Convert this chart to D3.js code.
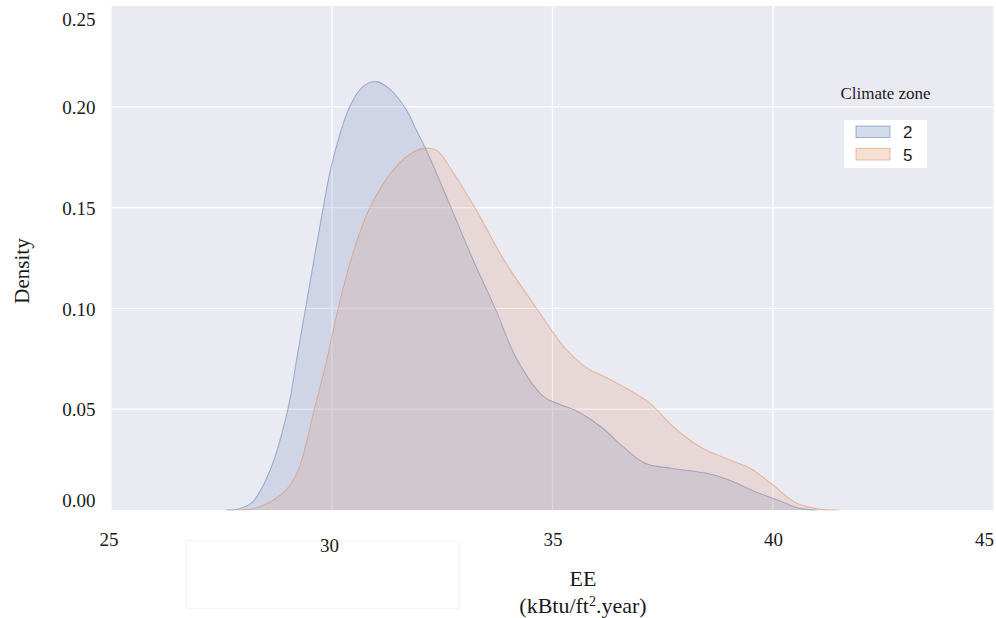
<!DOCTYPE html>
<html>
<head>
<meta charset="utf-8">
<script src="https://cdn.jsdelivr.net/npm/d3@7"></script>
<style>
  html, body { margin: 0; padding: 0; background: #ffffff; }
  svg { display: block; }
  text { font-family: "Liberation Serif", "Times New Roman", serif; fill: #1a1a1a; }
</style>
</head>
<body>
<svg id="chart" width="996" height="618"></svg>
<script>
// Kernel density estimates of EE, one curve per climate zone
const zones = ["2", "5"];
const zoneColors = ["#4c72b0", "#dd8452"];

const eeZone2 = [27.6, 27.9, 28.2, 28.6, 29.0, 29.2, 29.4, 29.8, 30.0, 30.4, 30.7, 31.0, 31.3, 31.7, 31.9, 32.15, 32.7, 33.2, 33.7, 34.2, 34.8, 35.1, 35.5, 36.1, 36.6, 37.1, 37.7, 38.5, 39.0, 39.6, 40.1, 40.6, 41.0];
const densityZone2 = [0, 0.0006, 0.004, 0.020, 0.050, 0.075, 0.100, 0.150, 0.172, 0.200, 0.210, 0.2125, 0.209, 0.198, 0.189, 0.178, 0.150, 0.124, 0.100, 0.0744, 0.0562, 0.0529, 0.0496, 0.0413, 0.0314, 0.0232, 0.0207, 0.0182, 0.0149, 0.0091, 0.0050, 0.0008, 0];

const eeZone5 = [27.9, 28.2, 28.6, 29.0, 29.24, 29.6, 29.88, 30.14, 30.45, 30.86, 31.39, 31.8, 32.1, 32.4, 32.7, 33.24, 33.9, 34.64, 35.32, 35.85, 36.1, 36.61, 37.21, 37.74, 38.34, 39.02, 39.48, 40.0, 40.54, 41.1, 41.5];
const densityZone5 = [0, 0.0006, 0.004, 0.011, 0.020, 0.050, 0.0744, 0.100, 0.1257, 0.150, 0.1687, 0.177, 0.1795, 0.178, 0.169, 0.150, 0.124, 0.100, 0.0794, 0.0694, 0.067, 0.0612, 0.0529, 0.0413, 0.0314, 0.0248, 0.0207, 0.0124, 0.0033, 0.0003, 0];

const xTicks = [25, 30, 35, 40, 45];
const yTicks = [0, 0.05, 0.10, 0.15, 0.20, 0.25];

const svg = d3.select("#chart");
const plot = { left: 111.5, right: 993.5, top: 6, bottom: 510 };

const x = d3.scaleLinear().domain([25, 45]).range([plot.left, plot.right]);
const y = d3.scaleLinear().domain([0, 0.25]).range([plot.bottom, plot.top]);

// panel background
svg.append("rect")
  .attr("x", plot.left).attr("y", plot.top)
  .attr("width", plot.right - plot.left).attr("height", plot.bottom - plot.top)
  .attr("fill", "#eaeaf2");

// white grid
const grid = svg.append("g");
grid.selectAll("line.h").data(yTicks.slice(1, -1)).join("line")
  .attr("x1", plot.left).attr("x2", plot.right)
  .attr("y1", d => y(d)).attr("y2", d => y(d))
  .attr("stroke", "#ffffff").attr("stroke-width", 1.3);
grid.selectAll("line.v").data(xTicks.slice(1, -1)).join("line")
  .attr("y1", plot.top).attr("y2", plot.bottom)
  .attr("x1", d => x(d)).attr("x2", d => x(d))
  .attr("stroke", "#ffffff").attr("stroke-width", 1.3);

// density areas
const series = [
  { xs: eeZone2, ds: densityZone2, color: zoneColors[0] },
  { xs: eeZone5, ds: densityZone5, color: zoneColors[1] }
];
const smooth = d3.curveCatmullRom.alpha(0.5);
const area = d3.area()
  .x(d => x(d[0])).y0(y(0)).y1(d => y(d[1]))
  .curve(smooth);
const line = d3.line()
  .x(d => x(d[0])).y(d => y(d[1]))
  .curve(smooth);

series.forEach(s => {
  const pts = d3.zip(s.xs, s.ds);
  svg.append("path").datum(pts)
    .attr("d", area)
    .attr("fill", s.color).attr("fill-opacity", 0.17);
  svg.append("path").datum(pts)
    .attr("d", line)
    .attr("fill", "none")
    .attr("stroke", s.color).attr("stroke-opacity", 0.45).attr("stroke-width", 1.1);
});

// faint pasted panel below the x axis
svg.append("rect")
  .attr("x", 186.5).attr("y", 540.5).attr("width", 273).attr("height", 68)
  .attr("fill", "#ffffff").attr("stroke", "#f4f4f4").attr("stroke-width", 1);

// y axis labels
const yAxis = d3.axisLeft(y).tickValues(yTicks).tickFormat(d3.format(".2f")).tickSize(0).tickPadding(16);
const gy = svg.append("g").attr("transform", `translate(${plot.left},0)`).call(yAxis);
gy.select(".domain").remove();
gy.selectAll("text")
  .style("font-family", '"Liberation Serif", "Times New Roman", serif')
  .style("font-size", "19px").attr("fill", "#1a1a1a")
  .attr("dy", d => d === 0.25 ? "1.05em" : d === 0 ? "-0.2em" : "0.35em");

// x axis labels
const xAxis = d3.axisBottom(x).tickValues(xTicks).tickFormat(d3.format("d")).tickSize(0).tickPadding(29);
const gx = svg.append("g").attr("transform", `translate(0,${plot.bottom})`).call(xAxis);
gx.select(".domain").remove();
gx.selectAll("text")
  .style("font-family", '"Liberation Serif", "Times New Roman", serif')
  .style("font-size", "19px").attr("fill", "#1a1a1a")
  .attr("dy", d => d === 30 ? "0.66em" : "0.35em")
  .attr("dx", d => d === 25 ? -3 : d === 30 ? -3 : 0)
  .attr("text-anchor", d => d === 45 ? "end" : "middle");

// axis titles
svg.append("text")
  .attr("transform", "translate(29,271) rotate(-90)")
  .attr("text-anchor", "middle").style("font-size", "21px").text("Density");

svg.append("text")
  .attr("x", 583).attr("y", 586).attr("text-anchor", "middle")
  .style("font-size", "22px").text("EE");
const unit = svg.append("text")
  .attr("x", 583).attr("y", 613).attr("text-anchor", "middle")
  .style("font-size", "22px");
unit.append("tspan").text("(kBtu/ft");
unit.append("tspan").attr("dy", -7).style("font-size", "14px").text("2");
unit.append("tspan").attr("dy", 7).text(".year)");

// legend
const legend = svg.append("g");
legend.append("text")
  .attr("x", 885.5).attr("y", 99).attr("text-anchor", "middle")
  .style("font-size", "17px").text("Climate zone");
legend.append("rect")
  .attr("x", 844).attr("y", 120).attr("width", 83).attr("height", 48)
  .attr("fill", "#ffffff");
zones.forEach((z, i) => {
  const yy = 126 + i * 22.5;
  legend.append("rect")
    .attr("x", 856).attr("y", yy).attr("width", 34).attr("height", 11.5)
    .attr("fill", zoneColors[i]).attr("fill-opacity", 0.25)
    .attr("stroke", zoneColors[i]).attr("stroke-opacity", 0.5).attr("stroke-width", 1);
  legend.append("text")
    .attr("x", 903).attr("y", yy + 12)
    .style("font-family", '"Liberation Sans", Arial, sans-serif')
    .style("font-size", "17px").text(z);
});
</script>
</body>
</html>
